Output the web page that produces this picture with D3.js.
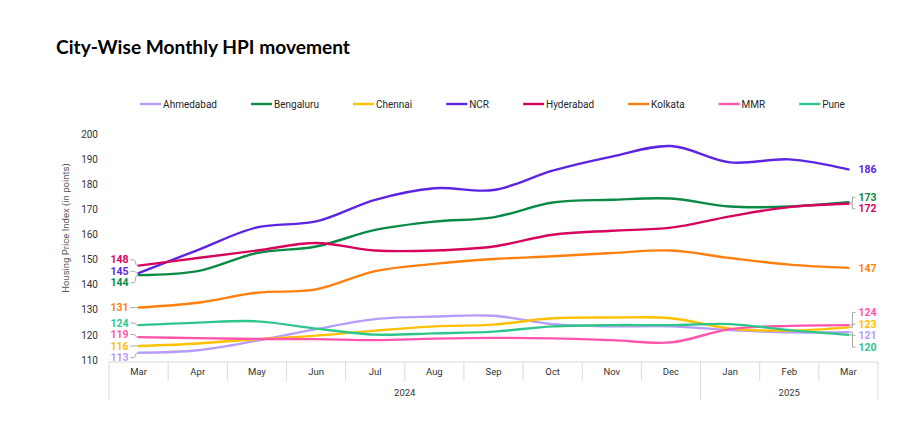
<!DOCTYPE html>
<meta charset="utf-8">
<style>
    body { margin: 0; background: #fff; }
    .title { font-family: Lato, "Noto Sans", sans-serif; font-size: 19px; font-weight: bold; fill: #000; }
    .legend text { font-family: Roboto, sans-serif; font-size: 10px; fill: #262626; }
    .tick-y { font-family: Roboto, sans-serif; font-size: 10px; fill: #333; }
    .axis-label { font-family: Roboto, sans-serif; font-size: 9.5px; fill: #595959; }
    .month { font-family: Roboto, sans-serif; font-size: 9.5px; fill: #333; }
    .end-label { font-family: Roboto, sans-serif; font-size: 10.5px; font-weight: bold; }
    .line { fill: none; stroke-width: 2.4px; stroke-linecap: round; }
    .leader { fill: none; stroke: #a6a6a6; stroke-width: 1px; }
    .sep { stroke: #d9d9d9; stroke-width: 1px; }
</style>
<svg width="920" height="430"></svg>
<script src="https://d3js.org/d3.v7.min.js"></script>
<script>
    // Data
    const months = ["Mar", "Apr", "May", "Jun", "Jul", "Aug", "Sep", "Oct", "Nov", "Dec", "Jan", "Feb", "Mar"];
    const years = ["2024", "2024", "2024", "2024", "2024", "2024", "2024", "2024", "2024", "2024", "2025", "2025", "2025"];
    const cities = ["Ahmedabad", "Bengaluru", "Chennai", "NCR", "Hyderabad", "Kolkata", "MMR", "Pune"];
    const colors = ["#b69cfb", "#0a8a45", "#ffc000", "#5b25e2", "#d6035f", "#ff7f0f", "#ff55ab", "#2fc68b"];
    const ahmedabad = [112.9, 113.9, 117.7, 122.3, 126.3, 127.3, 127.6, 124.3, 123.4, 123.4, 121.9, 121.0, 121.1];
    const bengaluru = [143.8, 145.4, 152.6, 155.2, 161.8, 165.1, 166.8, 172.7, 173.8, 174.3, 171.1, 171.1, 172.8];
    const chennai = [115.6, 116.6, 118.3, 119.7, 121.7, 123.4, 124.1, 126.6, 126.9, 126.6, 122.5, 121.7, 123.0];
    const ncr = [144.6, 153.8, 162.8, 165.2, 173.8, 178.4, 177.7, 185.4, 191.0, 195.2, 188.7, 189.9, 185.9];
    const hyderabad = [147.6, 150.6, 153.6, 156.6, 153.6, 153.6, 155.2, 159.9, 161.5, 162.7, 167.2, 170.9, 172.2];
    const kolkata = [130.9, 132.8, 136.8, 138.1, 145.4, 148.3, 150.2, 151.3, 152.6, 153.6, 150.6, 148.0, 146.7];
    const mmr = [119.1, 118.7, 118.4, 118.3, 117.9, 118.5, 118.8, 118.6, 117.9, 117.0, 122.3, 123.6, 123.9];
    const pune = [123.9, 124.9, 125.4, 122.5, 120.1, 120.6, 121.3, 123.4, 123.9, 123.9, 124.3, 121.9, 120.0];
    const yTicks = [110, 120, 130, 140, 150, 160, 170, 180, 190, 200];

    const seriesValues = [ahmedabad, bengaluru, chennai, ncr, hyderabad, kolkata, mmr, pune];
    const series = cities.map((c, i) => ({ name: c, color: colors[i], values: seriesValues[i] }));

    const svg = d3.select("svg");

    // Title
    svg.append("text")
        .attr("class", "title")
        .attr("x", 56)
        .attr("y", 54)
        .attr("textLength", 294)
        .attr("lengthAdjust", "spacingAndGlyphs")
        .text("City-Wise Monthly HPI movement");

    // Scales
    const x = d3.scaleBand()
        .domain(d3.range(months.length))
        .range([109, 878]);

    const y = d3.scaleLinear()
        .domain([110, 200])
        .range([360, 134]);

    const cx = i => x(i) + x.bandwidth() / 2;

    // Y axis (labels only)
    const yAxis = svg.append("g")
        .attr("transform", "translate(98,0)")
        .call(d3.axisLeft(y).tickValues(yTicks).tickSize(0).tickPadding(0));
    yAxis.select(".domain").remove();
    yAxis.selectAll("text").attr("class", "tick-y").attr("font-family", null).attr("font-size", null).attr("fill", null);

    svg.append("text")
        .attr("class", "axis-label")
        .attr("transform", "rotate(-90)")
        .attr("x", -228)
        .attr("y", 69)
        .attr("text-anchor", "middle")
        .text("Housing Price Index (in points)");

    // X axis: months row + years row
    const axisTop = 362;
    svg.append("line").attr("class", "sep")
        .attr("x1", x.range()[0]).attr("x2", x.range()[1])
        .attr("y1", axisTop).attr("y2", axisTop);

    const xAxis = svg.append("g")
        .attr("transform", `translate(0,${axisTop})`)
        .call(d3.axisBottom(x).tickSize(0).tickPadding(6).tickFormat(i => months[i]));
    xAxis.select(".domain").remove();
    xAxis.selectAll("text").attr("class", "month").attr("font-family", null).attr("font-size", null).attr("fill", null);

    const yearGroups = [];
    years.forEach((yr, i) => {
        const last = yearGroups[yearGroups.length - 1];
        if (last && last.year === yr) last.to = i;
        else yearGroups.push({ year: yr, from: i, to: i });
    });
    const yearStarts = new Set(yearGroups.map(g => g.from));

    d3.range(months.length + 1).forEach(i => {
        const xx = i < months.length ? x(i) : x.range()[1];
        const full = yearStarts.has(i) || i === months.length;
        svg.append("line").attr("class", "sep")
            .attr("x1", xx).attr("x2", xx)
            .attr("y1", axisTop).attr("y2", full ? 400 : 381);
    });

    yearGroups.forEach(g => {
        svg.append("text")
            .attr("class", "month")
            .attr("x", (x(g.from) + x(g.to) + x.bandwidth()) / 2)
            .attr("y", 396)
            .attr("text-anchor", "middle")
            .text(g.year);
    });

    // Lines
    const line = d3.line()
        .x((d, i) => cx(i))
        .y(d => y(d))
        .curve(d3.curveCatmullRom.alpha(0.5));

    series.forEach(s => {
        svg.append("path")
            .attr("class", "line")
            .attr("stroke", s.color)
            .attr("d", line(s.values));
    });

    // End labels, spread so they do not overlap
    function spread(items, gap) {
        const sorted = items.slice().sort((a, b) => a.py - b.py);
        let groups = sorted.map(d => ({ members: [d], center: d.py }));
        let merged = true;
        while (merged) {
            merged = false;
            for (let i = 1; i < groups.length; i++) {
                const a = groups[i - 1], b = groups[i];
                const aBottom = a.center + (a.members.length - 1) * gap / 2;
                const bTop = b.center - (b.members.length - 1) * gap / 2;
                if (bTop - aBottom < gap) {
                    const members = a.members.concat(b.members);
                    groups.splice(i - 1, 2, { members: members, center: d3.mean(members, m => m.py) });
                    merged = true;
                    break;
                }
            }
        }
        groups.forEach(g => {
            const top = g.center - (g.members.length - 1) * gap / 2;
            g.members.forEach((m, k) => { m.ly = top + k * gap; });
        });
        return sorted;
    }

    const first = 0, lastIdx = months.length - 1;
    const leftItems = spread(series.map(s => ({ s: s, v: s.values[first], py: y(s.values[first]) })), 11.5);
    const rightItems = spread(series.map(s => ({ s: s, v: s.values[lastIdx], py: y(s.values[lastIdx]) })), 11.5);

    const lx = cx(first), rx = cx(lastIdx);

    leftItems.forEach(d => {
        svg.append("path")
            .attr("class", "leader")
            .attr("d", `M${lx - 8},${d.ly} H${lx - 5} C${lx - 2},${d.ly} ${lx - 4},${d.py} ${lx - 1},${d.py}`);
        svg.append("text")
            .attr("class", "end-label")
            .attr("x", lx - 10)
            .attr("y", d.ly)
            .attr("dy", "0.35em")
            .attr("text-anchor", "end")
            .attr("fill", d.s.color)
            .text(Math.round(d.v));
    });

    rightItems.forEach(d => {
        if (Math.abs(d.ly - d.py) > 2) {
            svg.append("path")
                .attr("class", "leader")
                .attr("d", `M${rx + 1},${d.py} H${rx + 4} V${d.ly} H${rx + 7}`);
        }
        svg.append("text")
            .attr("class", "end-label")
            .attr("x", rx + 10)
            .attr("y", d.ly)
            .attr("dy", "0.35em")
            .attr("fill", d.s.color)
            .text(Math.round(d.v));
    });

    // Legend, laid out like Excel: swatch, label, fixed gap
    const legend = svg.append("g").attr("class", "legend");
    let lxPos = 0;
    series.forEach(s => {
        const item = legend.append("g").attr("transform", `translate(${lxPos},0)`);
        item.append("line")
            .attr("x1", 0).attr("x2", 21)
            .attr("y1", 0).attr("y2", 0)
            .attr("stroke", s.color)
            .attr("stroke-width", 2.4);
        const t = item.append("text")
            .attr("x", 23)
            .attr("dy", "0.35em")
            .text(s.name);
        lxPos += 23 + t.node().getComputedTextLength() + 34;
    });
    const legendWidth = lxPos - 34;
    legend.attr("transform", `translate(${492.5 - legendWidth / 2},104)`);
</script>
